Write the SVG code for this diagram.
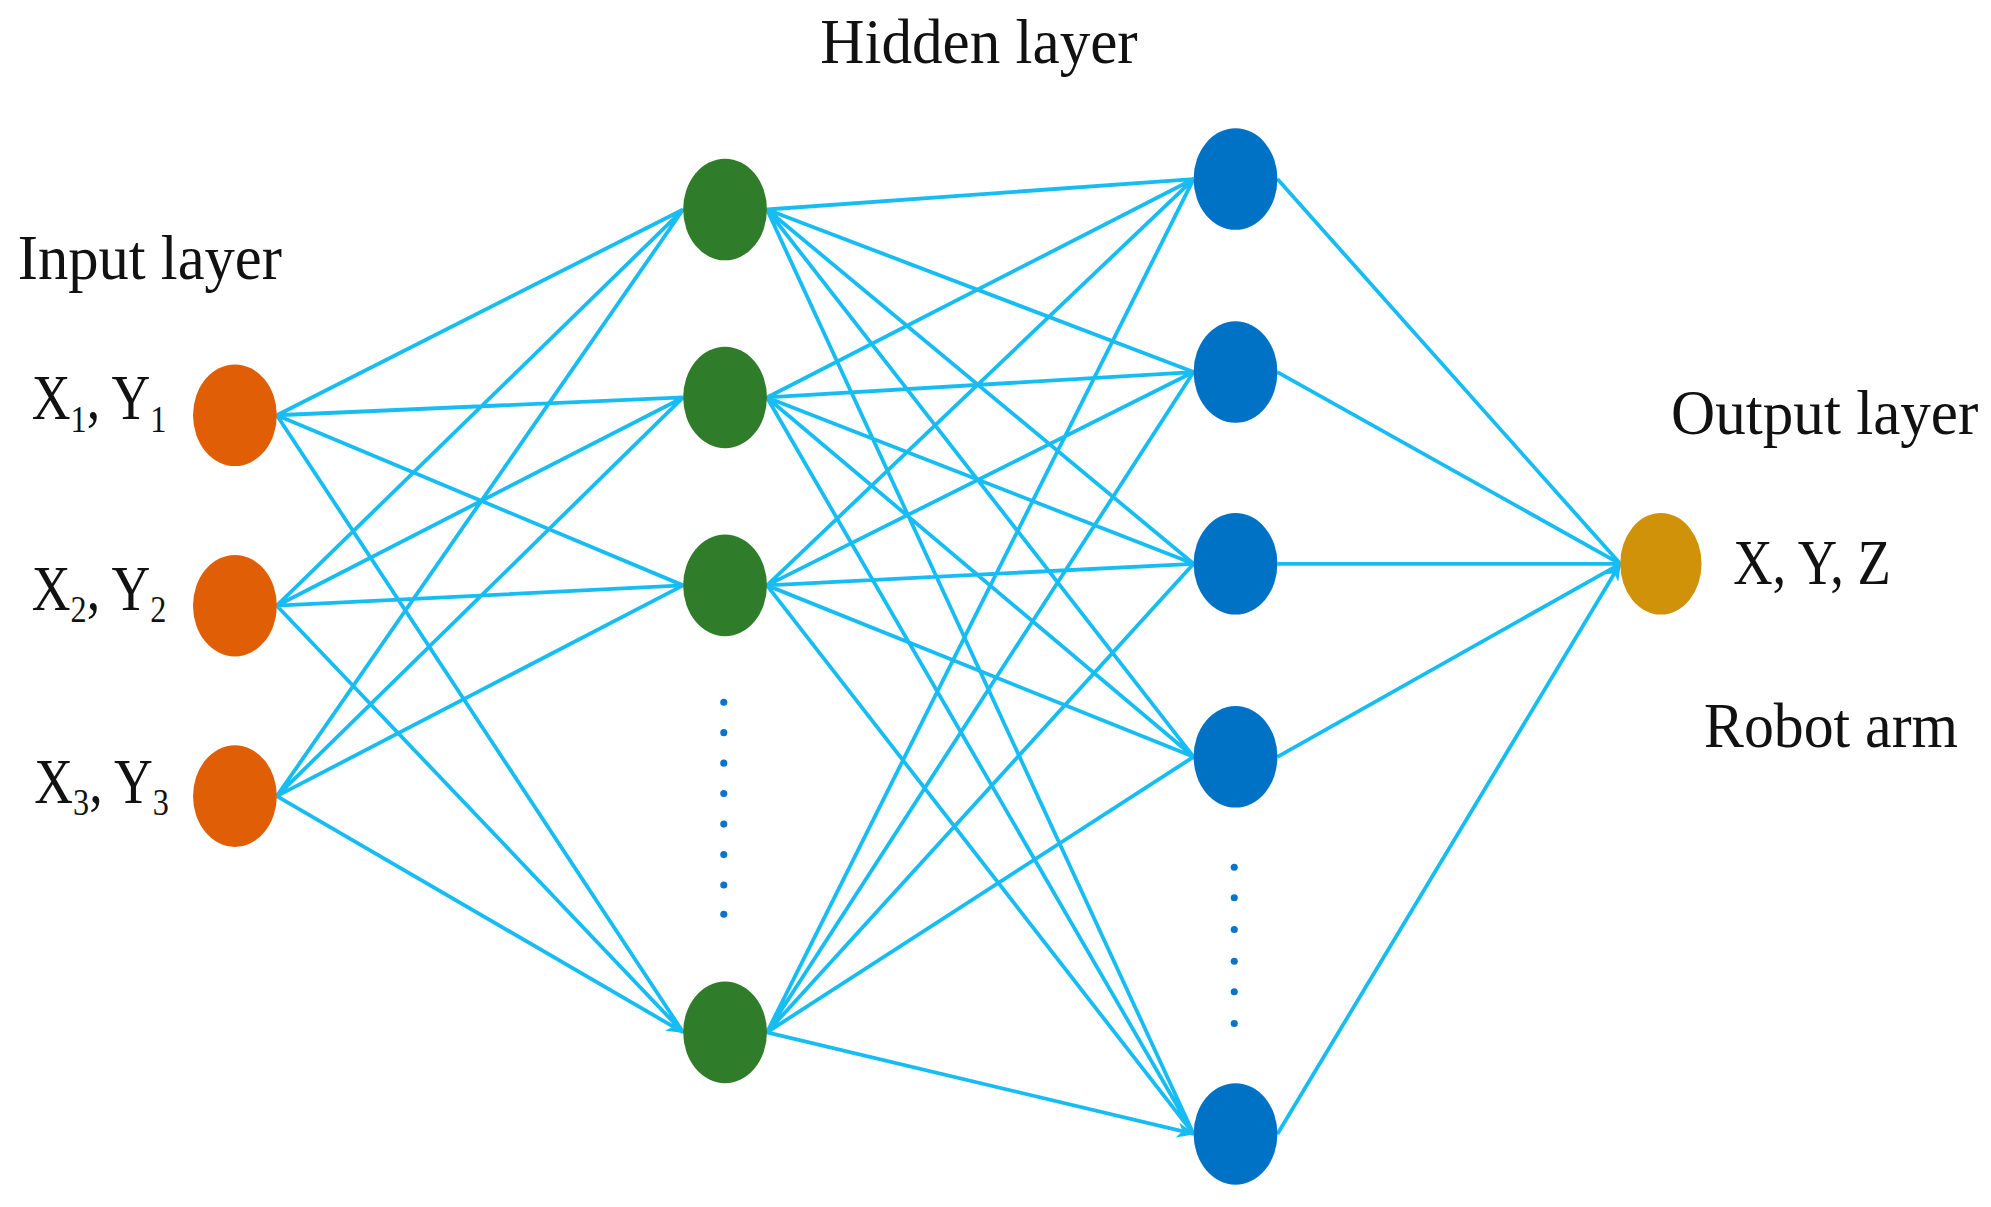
<svg xmlns="http://www.w3.org/2000/svg" width="1991" height="1207" viewBox="0 0 1991 1207">
<style>
.e{stroke:#17bdf2;stroke-width:3;fill:none;marker-end:url(#a)}
.t{font-family:"Liberation Serif",serif;font-size:50px;fill:#111}
.d{fill:#0a75c8}
</style>
<defs><marker id="a" markerWidth="14" markerHeight="12" refX="13" refY="6" orient="auto" markerUnits="userSpaceOnUse"><path d="M0,0 L14,6 L0,12 L4,6 Z" fill="#17bdf2"/></marker></defs>
<rect width="1991" height="1207" fill="#fff"/>
<g transform="scale(1.2698)">
<g id="connectors">
<path class="e" d="M218,327L538,165M218,327L538,313M218,327L538,461M218,327L538,813M218,477L538,165M218,477L538,313M218,477L538,461M218,477L538,813M218,627L538,165M218,627L538,313M218,627L538,461M218,627L538,813"/>
<path class="e" d="M604,165L940,141M604,165L940,293M604,165L940,444M604,165L940,596M604,165L940,893M604,313L940,141M604,313L940,293M604,313L940,444M604,313L940,596M604,313L940,893M604,461L940,141M604,461L940,293M604,461L940,444M604,461L940,596M604,461L940,893M604,813L940,141M604,813L940,293M604,813L940,444M604,813L940,596M604,813L940,893"/>
<path class="e" d="M1006,141L1276,444M1006,293L1276,444M1006,444L1276,444M1006,596L1276,444M1006,893L1276,444"/>
</g>
<g id="input1"><ellipse cx="185" cy="327" rx="33" ry="40" fill="#e05f06"/></g>
<g id="input2"><ellipse cx="185" cy="477" rx="33" ry="40" fill="#e05f06"/></g>
<g id="input3"><ellipse cx="185" cy="627" rx="33" ry="40" fill="#e05f06"/></g>
<g id="h1a"><ellipse cx="571" cy="165" rx="33" ry="40" fill="#2f7d2a"/></g>
<g id="h1b"><ellipse cx="571" cy="313" rx="33" ry="40" fill="#2f7d2a"/></g>
<g id="h1c"><ellipse cx="571" cy="461" rx="33" ry="40" fill="#2f7d2a"/></g>
<g id="h1d"><ellipse cx="571" cy="813" rx="33" ry="40" fill="#2f7d2a"/></g>
<g id="h2a"><ellipse cx="973" cy="141" rx="33" ry="40" fill="#0072c6"/></g>
<g id="h2b"><ellipse cx="973" cy="293" rx="33" ry="40" fill="#0072c6"/></g>
<g id="h2c"><ellipse cx="973" cy="444" rx="33" ry="40" fill="#0072c6"/></g>
<g id="h2d"><ellipse cx="973" cy="596" rx="33" ry="40" fill="#0072c6"/></g>
<g id="h2e"><ellipse cx="973" cy="893" rx="33" ry="40" fill="#0072c6"/></g>
<g id="output"><ellipse cx="1308" cy="444" rx="32" ry="40" fill="#cf9208"/></g>
<g id="dots1">
<circle class="d" cx="570" cy="553" r="2.8"/><circle class="d" cx="570" cy="577" r="2.8"/><circle class="d" cx="570" cy="601" r="2.8"/><circle class="d" cx="570" cy="625" r="2.8"/><circle class="d" cx="570" cy="649" r="2.8"/><circle class="d" cx="570" cy="673" r="2.8"/><circle class="d" cx="570" cy="697" r="2.8"/><circle class="d" cx="570" cy="720" r="2.8"/>
</g>
<g id="dots2">
<circle class="d" cx="972" cy="683" r="2.8"/><circle class="d" cx="972" cy="707" r="2.8"/><circle class="d" cx="972" cy="732" r="2.8"/><circle class="d" cx="972" cy="757" r="2.8"/><circle class="d" cx="972" cy="781" r="2.8"/><circle class="d" cx="972" cy="806" r="2.8"/>
</g>
<g id="labels">
<text class="t" x="646" y="50" textLength="250" lengthAdjust="spacingAndGlyphs">Hidden layer</text>
<text class="t" x="14" y="220" textLength="208" lengthAdjust="spacingAndGlyphs">Input layer</text>
<text class="t" x="25" y="330" textLength="106" lengthAdjust="spacingAndGlyphs">X<tspan font-size="30" dy="10">1</tspan><tspan dy="-10">, Y</tspan><tspan font-size="30" dy="10">1</tspan></text>
<text class="t" x="25" y="480" textLength="106" lengthAdjust="spacingAndGlyphs">X<tspan font-size="30" dy="10">2</tspan><tspan dy="-10">, Y</tspan><tspan font-size="30" dy="10">2</tspan></text>
<text class="t" x="27" y="632" textLength="106" lengthAdjust="spacingAndGlyphs">X<tspan font-size="30" dy="10">3</tspan><tspan dy="-10">, Y</tspan><tspan font-size="30" dy="10">3</tspan></text>
<text class="t" x="1316" y="342" textLength="242" lengthAdjust="spacingAndGlyphs">Output layer</text>
<text class="t" x="1365" y="460" textLength="124" lengthAdjust="spacingAndGlyphs">X, Y, Z</text>
<text class="t" x="1342" y="588" textLength="200" lengthAdjust="spacingAndGlyphs">Robot arm</text>
</g>
</g>
</svg>
